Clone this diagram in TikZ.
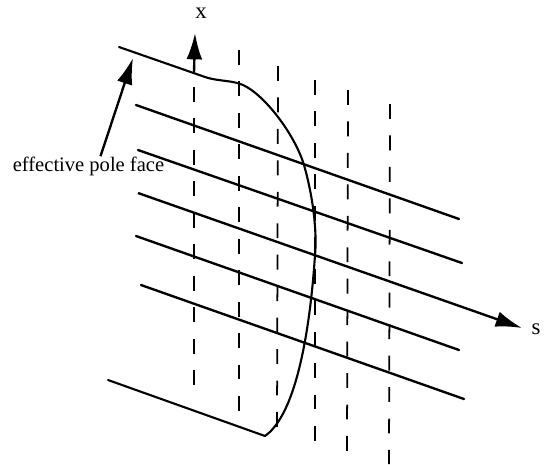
\documentclass[tikz,border=0pt]{standalone}
\usepackage{fontspec}
\setmainfont{Liberation Serif}
\usepackage{tikz}
\usetikzlibrary{arrows.meta,positioning}

\begin{document}
\begin{tikzpicture}[
  x=0.02cm, y=-0.02cm,
  ray/.style={line width=1.35pt, line cap=round},
  edgeline/.style={line width=1.2pt, line cap=round, line join=round},
  gap/.style={line width=1.0pt, dash pattern=on 8.5pt off 9.4pt},
  arr/.style={-{Latex[length=15pt, width=9pt]}, line width=1.35pt},
  lab/.style={font=\fontsize{11.7}{14}\selectfont, inner sep=0pt},
  axlab/.style={font=\fontsize{13}{15}\selectfont, inner sep=0pt},
]
\useasboundingbox (0,0) rectangle (544,464);

% pole outline
\draw[edgeline] (119,47) -- (205,77) .. controls (218,81.5) and (232,80) .. (243,85)
      .. controls (265,95) and (295,135) .. (304,165)
      .. controls (314,200) and (317,235) .. (315,255)
      .. controls (312,300) and (302,410) .. (265,436) -- (108,380);

% rays along s
\draw[ray] (136,105) -- (459,219);
\draw[ray] (138,150) -- (462,263);
\draw[ray] (136,236) -- (459,350);
\draw[ray] (141,285) -- (464,399);

% transverse planes
\draw[gap] (194,87)  -- (194,386);
\draw[gap] (239,50)  -- (239,411);
\draw[gap] (278,66)  -- (277,431);
\draw[gap] (315,80)  -- (315,441);
\draw[gap] (348,90)  -- (347,451);
\draw[gap] (390,104) -- (389,464);

% axes
\node[axlab] (xlab) at (201,13) {x};
\node[axlab] (slab) at (536,329) {s};
\coordinate (xfoot) at (194,73);
\coordinate (xtip)  at (195,33);
\coordinate (sfoot) at (138,193);
\coordinate (stip)  at (522,328);
\draw[arr] (xfoot) -- (xtip);
\draw[arr] (sfoot) -- (stip);

% pole face label
\node[lab] (facelab) at (88.5,166) {effective pole face};
\coordinate (facetip) at (133,58);
\draw[arr] ([xshift=0.24cm]facelab.north) -- (facetip);
\end{tikzpicture}
\end{document}
